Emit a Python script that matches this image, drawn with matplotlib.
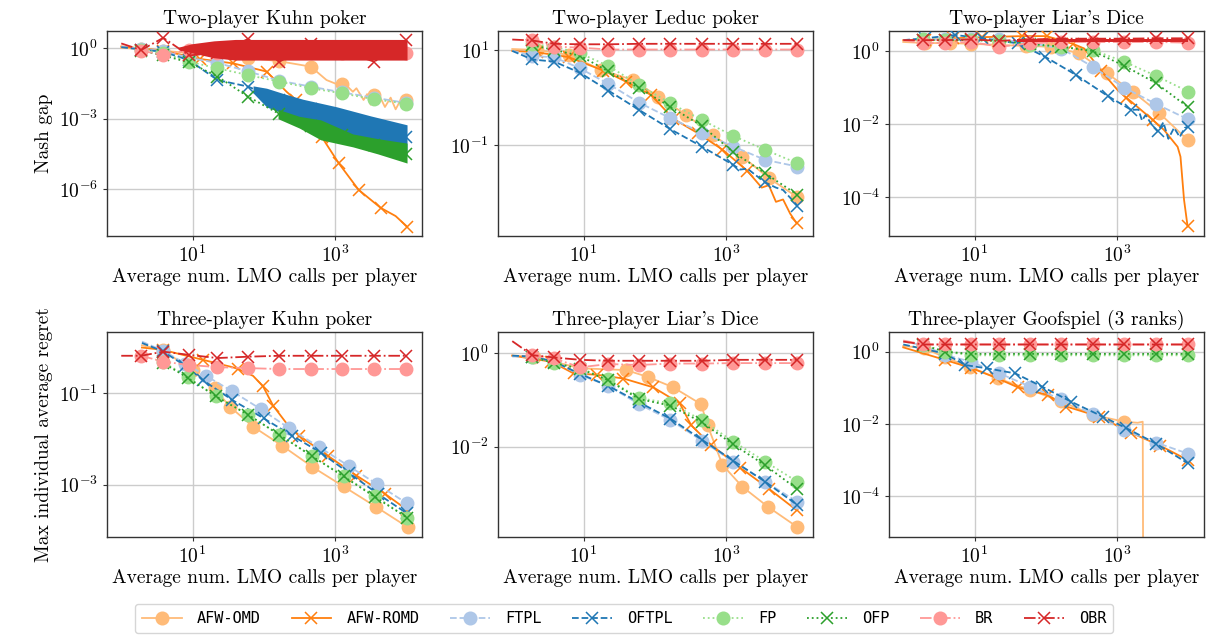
import numpy as np
import matplotlib
matplotlib.use("Agg")
import matplotlib.pyplot as plt
from matplotlib.lines import Line2D
from matplotlib.ticker import NullLocator, FixedLocator

plt.rcParams["font.family"] = "serif"
plt.rcParams["font.serif"] = ["cmr10", "DejaVu Serif"]
plt.rcParams["mathtext.fontset"] = "cm"
plt.rcParams["axes.formatter.use_mathtext"] = True
plt.rcParams["axes.unicode_minus"] = True

# ---------------- data (log10 values) ----------------
ALGOS = ["AFW-OMD", "AFW-ROMD", "FTPL", "OFTPL", "FP", "OFP", "BR", "OBR"]
TITLES = ["Two-player Kuhn poker", "Two-player Leduc poker", "Two-player Liar's Dice",
          "Three-player Kuhn poker", "Three-player Liar's Dice", "Three-player Goofspiel (3 ranks)"]
XLABEL = "Average num. LMO calls per player"
YLABELS = ["Nash gap", "Max individual average regret"]

# shared marker x positions (log10 of LMO calls)
SX = [0.28, 0.59, 0.95, 1.35, 1.78, 2.22, 2.66, 3.10, 3.55, 4.00]

# ---- Panel 1: Two-player Kuhn poker ----
k2_afw_omd_y = [-0.02, -0.1, -0.2, -0.3, -0.4, -0.55, -0.78, -1.52, -2.0, -2.2]
k2_afw_omd_lx = [0.0, 2.88, 3.02, 3.16, 3.25, 3.3, 3.4, 3.45, 3.5, 3.62, 3.7, 3.78, 3.85, 3.92]
k2_afw_omd_ly = [0.02, -1.35, -1.52, -1.58, -1.85, -1.7, -2.2, -1.95, -2.4, -2.0, -2.5, -2.1, -2.6, -2.2]
k2_afw_romd_x = [0.59, 1.1, 1.57, 2.04, 2.45, 2.81, 3.05, 3.33, 3.64, 4.01]
k2_afw_romd_y = [-0.1, -0.45, -0.64, -0.99, -2.2, -3.76, -4.89, -6.03, -6.8, -7.6]
k2_afw_romd_lx = [0.0, 0.28, 2.32, 2.55, 2.65, 2.74, 3.85]
k2_afw_romd_ly = [0.08, 0.0, -1.85, -2.46, -2.98, -3.55, -7.15]
k2_ftpl_y = [-0.02, -0.12, -0.4, -0.62, -0.98, -1.38, -1.63, -1.88, -2.1, -2.33]
k2_oftpl_y = [-0.05, -0.15, -0.5, -1.35, -1.63, -2.2, -2.6, -3.0, -3.3, -3.76]
k2_oftpl_bx = [1.85, 2.04, 2.3, 2.55, 3.02, 3.5, 4.01]
k2_oftpl_hi = [-1.6, -1.7, -1.95, -2.17, -2.49, -2.88, -3.26]
k2_oftpl_lo = [-1.9, -2.5, -2.8, -3.05, -3.55, -4.1, -4.54]
k2_fp_y = [-0.07, -0.2, -0.57, -0.85, -1.14, -1.42, -1.7, -1.92, -2.17, -2.36]
k2_ofp_y = [-0.1, -0.3, -0.6, -1.2, -2.06, -2.8, -3.3, -3.7, -4.1, -4.5]
k2_ofp_bx = [2.2, 2.5, 2.8, 3.25, 3.6, 4.01]
k2_ofp_hi = [-2.6, -2.9, -3.05, -3.65, -3.85, -4.04]
k2_ofp_lo = [-3.0, -3.4, -3.9, -4.2, -4.5, -4.89]
k2_br_y = [-0.1, -0.28, -0.07, -0.2, -0.15, -0.2, -0.15, -0.2, -0.15, -0.2]
k2_obr_y = [-0.07, 0.45, -0.3, -0.2, 0.4, -0.57, 0.2, -0.1, -0.57, 0.35]
k2_obr_bx = [0.8, 1.0, 1.3, 1.6, 4.01]
k2_obr_hi = [0.05, 0.2, 0.32, 0.38, 0.38]
k2_obr_lo = [-0.05, -0.2, -0.4, -0.5, -0.5]

# ---- Panel 2: Two-player Leduc poker ----
le_afw_omd_x = [0.35, 0.79, 1.25, 1.69, 2.05, 2.44, 2.82, 3.23, 3.60, 3.99]
le_afw_omd_y = [1.0, 0.895, 0.58, 0.368, 0.018, -0.368, -0.79, -1.246, -1.70, -2.09]
le_afw_romd_x = [0.35, 0.79, 1.28, 1.6, 1.95, 2.26, 2.6, 2.95, 3.3, 3.99]
le_afw_romd_y = [0.95, 0.85, 0.565, 0.33, 0.05, -0.45, -0.75, -1.1, -1.55, -2.65]
le_afw_romd_lx = [0.0, 3.5, 3.6, 3.7, 3.8, 3.9]
le_afw_romd_ly = [0.98, -1.9, -1.85, -2.2, -2.15, -2.45]
le_ftpl_y = [0.874, 0.846, 0.614, 0.284, -0.109, -0.439, -0.74, -1.035, -1.316, -1.456]
le_oftpl_y = [0.80, 0.754, 0.52, 0.144, -0.263, -0.67, -1.035, -1.42, -1.79, -2.28]
le_oftpl_lx = [0.0, 3.2, 3.3, 3.4, 3.7, 3.8]
le_oftpl_ly = [0.98, -1.52, -1.5, -1.62, -1.9, -1.95]
le_fp_y = [1.12, 1.07, 0.93, 0.663, 0.263, -0.123, -0.474, -0.81, -1.105, -1.386]
le_ofp_y = [1.1, 1.0, 0.88, 0.55, 0.2, -0.2, -0.6, -1.15, -1.6, -2.05]
le_br_y = [1.2, 1.07, 1.05, 1.01, 1.01, 1.01, 1.01, 1.01, 1.01, 1.01]
le_obr_y = [1.2, 1.13, 1.12, 1.12, 1.13, 1.13, 1.13, 1.13, 1.13, 1.13]

# ---- Panel 3: Two-player Liar's Dice ----
d2_afw_omd_x = [0.3, 0.65, 0.95, 1.33, 1.72, 2.08, 2.47, 2.86, 3.22, 3.59, 3.99]
d2_afw_omd_y = [0.22, 0.22, 0.2, 0.17, 0.14, 0.12, -0.06, -0.61, -1.11, -1.69, -2.43]
d2_afw_romd_x = [0.3, 0.7, 1.1, 1.66, 2.01, 2.38, 2.78, 3.13, 3.5, 3.99]
d2_afw_romd_y = [0.3, 0.35, 0.38, 0.41, 0.41, 0.2, -0.55, -1.27, -1.88, -4.8]
d2_afw_romd_lx = [0.0, 2.54, 3.01, 3.66, 3.85, 3.89, 3.94]
d2_afw_romd_ly = [0.3, 0.07, -1.07, -2.16, -2.62, -2.89, -4.07]
d2_ftpl_y = [0.32, 0.32, 0.32, 0.32, 0.22, 0.07, -0.43, -1.0, -1.45, -1.87]
d2_oftpl_x = [0.3, 0.73, 1.11, 1.61, 1.99, 2.43, 2.87, 3.2, 3.57, 3.99]
d2_oftpl_y = [0.35, 0.44, 0.35, 0.21, -0.155, -0.66, -1.23, -1.61, -2.2, -2.07]
d2_oftpl_lx = [0.0, 3.3, 3.35, 3.4, 3.5, 3.65, 3.72, 3.8, 3.88, 3.95]
d2_oftpl_ly = [0.3, -1.6, -1.9, -1.75, -2.05, -1.95, -2.4, -2.1, -2.35, -2.1]
d2_fp_y = [0.32, 0.3, 0.3, 0.28, 0.16, 0.1, 0.03, -0.29, -0.68, -1.11]
d2_ofp_y = [0.3, 0.3, 0.3, 0.28, 0.2, 0.12, 0.0, -0.4, -0.88, -1.54]
d2_br_y = [0.21, 0.23, 0.25, 0.12, 0.21, 0.25, 0.25, 0.25, 0.25, 0.23]
d2_obr_y = [0.3, 0.3, 0.32, 0.28, 0.32, 0.34, 0.34, 0.34, 0.35, 0.35]
d2_obr_bx = [1.6, 4.0]
d2_obr_hi = [0.34, 0.34]
d2_obr_lo = [0.26, 0.26]

# ---- Panel 4: Three-player Kuhn poker ----
k3_afw_omd_x = [0.58, 1.0, 1.31, 1.52, 1.85, 2.26, 2.68, 3.12, 3.57, 4.02]
k3_afw_omd_y = [-0.05, -0.5, -0.89, -1.29, -1.73, -2.15, -2.61, -3.04, -3.48, -3.93]
k3_afw_romd_x = [0.58, 1.15, 1.64, 1.99, 2.13, 2.5, 2.9, 3.3, 3.7, 4.01]
k3_afw_romd_y = [-0.05, -0.27, -0.47, -0.85, -1.27, -1.93, -2.37, -2.8, -3.2, -3.55]
k3_afw_romd_lx = [0.29, 1.56, 1.85, 2.32]
k3_afw_romd_ly = [0.0, -0.43, -0.62, -1.66]
k3_ftpl_x = [0.58, 0.9, 1.19, 1.56, 1.96, 2.36, 2.78, 3.19, 3.59, 4.01]
k3_ftpl_y = [-0.066, -0.35, -0.62, -0.96, -1.35, -1.77, -2.18, -2.59, -2.99, -3.41]
k3_oftpl_x = [0.58, 0.9, 1.15, 1.56, 2.0, 2.4, 2.8, 3.2, 3.6, 4.01]
k3_oftpl_y = [-0.08, -0.4, -0.72, -1.15, -1.55, -1.93, -2.3, -2.75, -3.2, -3.63]
k3_fp_x = [0.58, 0.93, 1.33, 1.78, 2.22, 2.67, 3.12, 3.56, 4.01]
k3_fp_y = [-0.31, -0.64, -1.07, -1.47, -1.91, -2.37, -2.81, -3.25, -3.72]
k3_ofp_y = [-0.33, -0.66, -1.07, -1.47, -1.91, -2.37, -2.82, -3.27, -3.72]
k3_br_y = [-0.18, -0.31, -0.38, -0.43, -0.45, -0.47, -0.47, -0.47, -0.47, -0.47]
k3_obr_y = [-0.18, -0.09, -0.16, -0.23, -0.2, -0.18, -0.18, -0.18, -0.18, -0.18]

# ---- Panel 5: Three-player Liar's Dice ----
d3_afw_omd_x = [0.3, 0.95, 1.6, 1.91, 2.26, 2.65, 2.74, 2.95, 3.23, 3.59, 3.99]
d3_afw_omd_y = [-0.07, -0.32, -0.36, -0.51, -0.73, -1.09, -1.54, -2.39, -2.86, -3.29, -3.71]
d3_afw_romd_x = [0.55, 0.86, 1.19, 1.56, 1.98, 2.35, 2.51, 2.79, 3.2, 3.6, 3.99]
d3_afw_romd_y = [-0.18, -0.43, -0.46, -0.54, -0.73, -1.07, -1.54, -1.96, -2.45, -2.9, -3.36]
d3_ftpl_y = [-0.07, -0.18, -0.46, -0.7, -1.09, -1.43, -1.87, -2.32, -2.75, -3.18]
d3_oftpl_y = [-0.07, -0.18, -0.44, -0.7, -1.05, -1.4, -1.85, -2.3, -2.75, -3.25]
d3_fp_y = [-0.08, -0.21, -0.32, -0.56, -0.96, -1.07, -1.43, -1.89, -2.32, -2.75]
d3_ofp_y = [-0.08, -0.21, -0.33, -0.58, -0.98, -1.12, -1.48, -1.95, -2.4, -2.91]
d3_br_y = [-0.04, -0.11, -0.3, -0.23, -0.25, -0.22, -0.22, -0.21, -0.21, -0.21]
d3_obr_y = [-0.04, -0.09, -0.14, -0.16, -0.16, -0.16, -0.16, -0.14, -0.14, -0.14]

# ---- Panel 6: Three-player Goofspiel ----
gs_afw_omd_x = [0.29, 0.58, 0.94, 1.33, 1.78, 2.22, 2.66, 3.1]
gs_afw_omd_y = [0.1, -0.15, -0.43, -0.74, -1.06, -1.38, -1.75, -1.94]
gs_afw_omd_lx = [0.0, 3.29, 3.36, 3.375]
gs_afw_omd_ly = [0.16, -1.97, -1.94, -12.0]
gs_afw_romd_x = [0.59, 0.95, 1.3, 1.61, 2.03, 2.29, 2.75, 3.2, 3.6, 3.99]
gs_afw_romd_y = [-0.23, -0.45, -0.72, -0.99, -1.2, -1.52, -1.8, -2.25, -2.6, -3.0]
gs_ftpl_y = [0.18, -0.09, -0.28, -0.6, -0.97, -1.32, -1.73, -2.17, -2.52, -2.83]
gs_oftpl_x = [0.58, 0.87, 1.17, 1.57, 1.95, 2.36, 2.8, 3.13, 3.55, 3.99]
gs_oftpl_y = [-0.05, -0.37, -0.46, -0.6, -0.97, -1.39, -1.8, -2.12, -2.55, -3.09]
gs_fp_y = [0.18, 0.0, -0.1, -0.1, -0.1, -0.1, -0.1, -0.1, -0.1, -0.1]
gs_ofp_y = [0.18, 0.0, -0.06, -0.06, -0.06, -0.06, -0.06, -0.06, -0.06, -0.06]
gs_br_y = [0.2, 0.2, 0.2, 0.2, 0.2, 0.2, 0.2, 0.2, 0.2, 0.2]
gs_obr_y = [0.2, 0.2, 0.2, 0.2, 0.2, 0.2, 0.2, 0.2, 0.2, 0.2]

# start points of the curves
START = {
    0: {"FTPL": (0.0, 0.07), "OFTPL": (0.0, 0.05), "OBR": (0.0, 0.21)},
    1: {"FTPL": (0.0, 0.986), "OBR": (0.0, 1.22), "AFW-OMD": (0.0, 1.02)},
    2: {"FTPL": (0.0, 0.3), "BR": (0.0, 0.3), "OBR": (0.0, 0.3), "AFW-OMD": (0.0, 0.25)},
    3: {"FTPL": (0.29, 0.13), "OFTPL": (0.29, 0.1), "AFW-OMD": (0.29, 0.05), "FP": (0.5, -0.25),
        "OFP": (0.5, -0.27), "OBR": (0.0, -0.18)},
    4: {"FTPL": (0.0, -0.07), "OFTPL": (0.0, -0.05), "AFW-OMD": (0.0, -0.05),
        "AFW-ROMD": (0.0, -0.05), "OBR": (0.0, 0.26)},
    5: {"FTPL": (0.0, 0.28), "OFTPL": (0.0, 0.2), "AFW-ROMD": (0.0, 0.12),
        "BR": (0.0, 0.31), "OBR": (0.0, 0.28)},
}

PANELS = [
    {"AFW-OMD": (SX, k2_afw_omd_y, k2_afw_omd_lx, k2_afw_omd_ly),
     "AFW-ROMD": (k2_afw_romd_x, k2_afw_romd_y, k2_afw_romd_lx, k2_afw_romd_ly),
     "FTPL": (SX, k2_ftpl_y), "OFTPL": (SX, k2_oftpl_y), "FP": (SX, k2_fp_y),
     "OFP": (SX, k2_ofp_y), "BR": (SX, k2_br_y), "OBR": (SX, k2_obr_y)},
    {"AFW-OMD": (le_afw_omd_x, le_afw_omd_y),
     "AFW-ROMD": (le_afw_romd_x, le_afw_romd_y, le_afw_romd_lx, le_afw_romd_ly),
     "FTPL": (SX, le_ftpl_y), "OFTPL": (SX, le_oftpl_y, le_oftpl_lx, le_oftpl_ly),
     "FP": (SX, le_fp_y), "OFP": (SX, le_ofp_y), "BR": (SX, le_br_y), "OBR": (SX, le_obr_y)},
    {"AFW-OMD": (d2_afw_omd_x, d2_afw_omd_y),
     "AFW-ROMD": (d2_afw_romd_x, d2_afw_romd_y, d2_afw_romd_lx, d2_afw_romd_ly),
     "FTPL": (SX, d2_ftpl_y), "OFTPL": (d2_oftpl_x, d2_oftpl_y, d2_oftpl_lx, d2_oftpl_ly),
     "FP": (SX, d2_fp_y), "OFP": (SX, d2_ofp_y), "BR": (SX, d2_br_y), "OBR": (SX, d2_obr_y)},
    {"AFW-OMD": (k3_afw_omd_x, k3_afw_omd_y),
     "AFW-ROMD": (k3_afw_romd_x, k3_afw_romd_y, k3_afw_romd_lx, k3_afw_romd_ly),
     "FTPL": (k3_ftpl_x, k3_ftpl_y), "OFTPL": (k3_oftpl_x, k3_oftpl_y),
     "FP": (k3_fp_x, k3_fp_y), "OFP": (k3_fp_x, k3_ofp_y), "BR": (SX, k3_br_y), "OBR": (SX, k3_obr_y)},
    {"AFW-OMD": (d3_afw_omd_x, d3_afw_omd_y), "AFW-ROMD": (d3_afw_romd_x, d3_afw_romd_y),
     "FTPL": (SX, d3_ftpl_y), "OFTPL": (SX, d3_oftpl_y), "FP": (SX, d3_fp_y),
     "OFP": (SX, d3_ofp_y), "BR": (SX, d3_br_y), "OBR": (SX, d3_obr_y)},
    {"AFW-OMD": (gs_afw_omd_x, gs_afw_omd_y, gs_afw_omd_lx, gs_afw_omd_ly),
     "AFW-ROMD": (gs_afw_romd_x, gs_afw_romd_y),
     "FTPL": (SX, gs_ftpl_y), "OFTPL": (gs_oftpl_x, gs_oftpl_y), "FP": (SX, gs_fp_y),
     "OFP": (SX, gs_ofp_y), "BR": (SX, gs_br_y), "OBR": (SX, gs_obr_y)},
]

BANDS = {
    (0, "OFTPL"): (k2_oftpl_bx, k2_oftpl_lo, k2_oftpl_hi),
    (0, "OFP"): (k2_ofp_bx, k2_ofp_lo, k2_ofp_hi),
    (0, "OBR"): (k2_obr_bx, k2_obr_lo, k2_obr_hi),
    (2, "OBR"): (d2_obr_bx, d2_obr_lo, d2_obr_hi),
}

YTICKS = [[0, -3, -6], [1, -1], [0, -2, -4], [-1, -3], [0, -2], [0, -2, -4]]
YLIMS = [(-8.0, 0.74), (-2.92, 1.4), (-5.06, 0.55), (-4.145, 0.34), (-3.934, 0.456), (-5.136, 0.546)]

# ---------------- styles ----------------
COLORS = {"AFW-OMD": "#ffbb78", "AFW-ROMD": "#ff7f0e", "FTPL": "#aec7e8", "OFTPL": "#1f77b4",
          "FP": "#98df8a", "OFP": "#2ca02c", "BR": "#ff9896", "OBR": "#d62728"}
LS = {"AFW-OMD": "-", "AFW-ROMD": "-", "FTPL": "--", "OFTPL": "--",
      "FP": ":", "OFP": ":", "BR": "-.", "OBR": "-."}
MK = {"AFW-OMD": "o", "AFW-ROMD": "x", "FTPL": "o", "OFTPL": "x",
      "FP": "o", "OFP": "x", "BR": "o", "OBR": "x"}

FS = 14
fig = plt.figure(figsize=(12.24, 6.42), dpi=100)
W, H = 1224, 642
lefts = [107, 498, 889]
tops = [31, 332]
aw, ah = 315, 205

for p in range(6):
    r, c = divmod(p, 3)
    ax = fig.add_axes([lefts[c] / W, 1 - (tops[r] + ah) / H, aw / W, ah / H])
    ax.set_xscale("log")
    ax.set_yscale("log")
    for i, a in enumerate(ALGOS):
        s = PANELS[p][a]
        mx, my = list(s[0])[:len(s[1])], list(s[1])
        lx = list(s[2]) if len(s) > 2 else []
        ly = list(s[3]) if len(s) > 2 else []
        st = START.get(p, {}).get(a)
        if st is not None and (not lx or lx[0] != st[0]):
            lx = [st[0]] + lx
            ly = [st[1]] + ly
        px = np.array(mx + lx)
        py = np.array(my + ly)
        order = np.argsort(px, kind="stable")
        z = 2 + i
        if (p, a) in BANDS:
            bx, blo, bhi = BANDS[(p, a)]
            ax.fill_between(10 ** np.array(bx), 10 ** np.array(blo), 10 ** np.array(bhi),
                            color=COLORS[a], lw=0, zorder=z)
        ax.plot(10 ** px[order], 10 ** py[order], color=COLORS[a], ls=LS[a], lw=1.3, zorder=z)
        if MK[a] == "o":
            ax.plot(10 ** np.array(mx), 10 ** np.array(my), ls="none", marker="o", ms=9,
                    color=COLORS[a], mec=COLORS[a], zorder=z + 0.5)
        else:
            ax.plot(10 ** np.array(mx), 10 ** np.array(my), ls="none", marker="x", ms=9,
                    mew=1.1, color=COLORS[a], zorder=z + 0.5)
    ax.set_xlim(10 ** -0.2, 10 ** 4.22)
    ax.set_ylim(10 ** YLIMS[p][0], 10 ** YLIMS[p][1])
    ax.xaxis.set_major_locator(FixedLocator([1e1, 1e3]))
    ax.xaxis.set_minor_locator(NullLocator())
    ax.yaxis.set_major_locator(FixedLocator([10.0 ** e for e in YTICKS[p]]))
    ax.yaxis.set_minor_locator(NullLocator())
    ax.grid(True, color="#cccccc", lw=1.0, zorder=0)
    ax.set_axisbelow(True)
    ax.tick_params(labelsize=FS, length=3, width=0.8, color="#333333")
    for sp in ax.spines.values():
        sp.set_color("#333333")
        sp.set_linewidth(1.0)
    ax.set_title(TITLES[p], fontsize=FS, pad=5)
    ax.set_xlabel(XLABEL, fontsize=FS, labelpad=1)
    if c == 0:
        ax.set_ylabel(YLABELS[r], fontsize=FS)

handles = [Line2D([], [], color=COLORS[a], ls=LS[a], marker=MK[a], ms=9,
                  mew=1.1, lw=1.3) for a in ALGOS]
leg = fig.legend(handles, ALGOS, loc="lower center", bbox_to_anchor=(0.51, 0.002), ncol=8,
                 prop={"family": "DejaVu Sans Mono", "size": 11}, frameon=True, fancybox=True,
                 edgecolor="#cccccc", columnspacing=2.0, handlelength=2.6, handletextpad=1.0,
                 borderpad=0.45)
fig.savefig("out.png", dpi=100)
